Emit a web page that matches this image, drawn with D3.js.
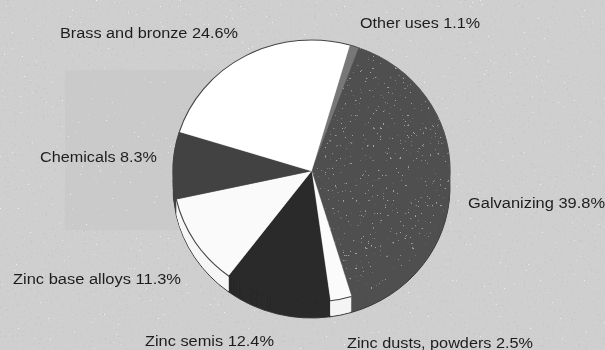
<!DOCTYPE html>
<html><head><meta charset="utf-8">
<script src="https://cdnjs.cloudflare.com/ajax/libs/d3/7.8.5/d3.min.js"></script>
<style>html,body{margin:0;padding:0;background:#cdcdcd;overflow:hidden}svg{display:block}</style>
</head><body><svg id="c" width="605" height="350"></svg>
<script>
const categories=["Other uses","Galvanizing","Zinc dusts, powders","Zinc semis","Zinc base alloys","Chemicals","Brass and bronze"];
const shares=[1.1,39.8,2.5,12.4,11.3,8.3,24.6];
const topColors=["#777777","#505050","#fbfbfb","#2a2a2a","#fafafa","#434343","#ffffff"];
const wallColors=["#666666","#505050","#f4f4f4","#2a2a2a","#f6f6f6","#434343","#eeeeee"];
const rimColors=["#555555","#505050","#444444","#2a2a2a","#444444","#434343","#444444"];
const labelX=[360,468,347,145,13,40,60];
const labelY=[23,203,343,341,279,157,33];
const labelW=[120,137,186,129,168,117,178];

const W=605,H=350,cx=311.5,cy=171,rx=138.5,ry=131,depth=16;
const svg=d3.select("#c");
const defs=svg.append("defs");
defs.append("filter").attr("id","soft").attr("x",0).attr("y",0).attr("width",1).attr("height",1)
  .append("feGaussianBlur").attr("stdDeviation",0.6);
function speck(id,freq,seed,thresh,rgb){
  const f=defs.append("filter").attr("id",id).attr("x",0).attr("y",0).attr("width",1).attr("height",1);
  f.append("feTurbulence").attr("type","fractalNoise").attr("baseFrequency",freq).attr("numOctaves",2).attr("seed",seed);
  f.append("feColorMatrix").attr("type","matrix").attr("values",
    `0 0 0 0 ${rgb} 0 0 0 0 ${rgb} 0 0 0 0 ${rgb} 16 0 0 0 ${-16*thresh}`);
}
speck("dark",0.42,4,0.66,0.58);
speck("light",0.5,9,0.74,0.95);
speck("onGalv",0.4,13,0.72,0.72);

const root=svg.append("g").attr("filter","url(#soft)");
root.append("rect").attr("width",W).attr("height",H).attr("fill","#cfcfcf");
root.append("rect").attr("x",65).attr("y",70).attr("width",165).attr("height",160).attr("fill","#cacaca");
root.append("rect").attr("x",0).attr("y",0).attr("width",W).attr("height",H).attr("filter","url(#dark)");
root.append("rect").attr("x",0).attr("y",0).attr("width",W).attr("height",H).attr("filter","url(#light)").attr("opacity",0.8);

const pie=d3.pie().sort(null).value(d=>d.v).startAngle(16*Math.PI/180).endAngle((360+16)*Math.PI/180);
const slices=pie(shares.map((v,i)=>({v,i})));
const arc=d3.arc().innerRadius(0).outerRadius(rx);
const rim=d3.arc().innerRadius(rx).outerRadius(rx);
const sy=ry/rx;
const place=off=>`translate(${cx},${cy+off}) scale(1,${sy})`;

// side wall: stacked copies of each slice, deepest first
const bottomLayer=root.append("g").attr("transform",place(depth));
bottomLayer.selectAll("path").data(slices).join("path").attr("d",arc)
  .attr("fill",d=>wallColors[d.data.i]).attr("stroke","#333333").attr("stroke-width",1);
d3.range(depth-1,0,-1).forEach(off=>{
  root.append("g").attr("transform",place(off)).selectAll("path").data(slices).join("path")
    .attr("d",arc).attr("fill",d=>wallColors[d.data.i]);
});
// top surface
const topLayer=root.append("g").attr("transform",place(0));
topLayer.selectAll("path.s").data(slices).join("path").attr("class","s").attr("d",arc)
  .attr("fill",d=>topColors[d.data.i]).attr("stroke",d=>topColors[d.data.i]).attr("stroke-width",0.4);
topLayer.selectAll("path.r").data(slices).join("path").attr("class","r").attr("d",rim)
  .attr("fill","none").attr("stroke",d=>rimColors[d.data.i]).attr("stroke-width",1.1);

// flecks inside the galvanizing slice
defs.append("clipPath").attr("id","galv").append("path")
  .attr("transform",place(0)).attr("d",arc(slices[1]));
root.append("g").attr("clip-path","url(#galv)").append("rect").attr("width",W).attr("height",H).attr("filter","url(#onGalv)").attr("opacity",0.6);

root.selectAll("text").data(categories).join("text")
  .attr("x",(d,i)=>labelX[i]).attr("y",(d,i)=>labelY[i]).attr("dy","0.36em")
  .attr("textLength",(d,i)=>labelW[i]).attr("lengthAdjust","spacingAndGlyphs")
  .attr("font-family","'Liberation Sans',Arial,sans-serif").attr("font-size",14).attr("fill","#1e1e1e")
  .text((d,i)=>`${d} ${shares[i]}%`);
</script></body></html>
